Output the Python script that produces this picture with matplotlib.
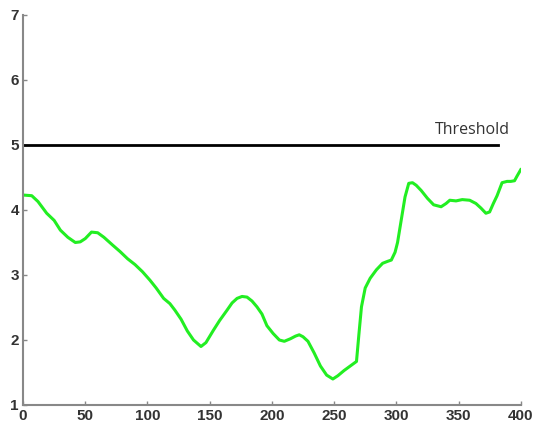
import matplotlib
matplotlib.use("Agg")
import matplotlib.pyplot as plt

# Signal trace vs. sample index
SAMPLE = [0, 7, 12, 19, 25, 30, 36, 42, 46, 50, 55, 60, 65, 72, 78, 84, 90, 96,
          102, 107, 113, 118, 122, 127, 132, 137, 143, 147, 153, 158, 164, 168,
          172, 176, 180, 184, 188, 192, 196, 201, 206, 210, 215, 219, 222, 225,
          229, 234, 239, 244, 249, 253, 258, 263, 268, 270, 272, 275, 279, 284,
          289, 293, 296, 299, 301, 304, 307, 310, 313, 316, 320, 325, 330, 336,
          340, 343, 348, 353, 359, 364, 368, 372, 375, 378, 381, 385, 389, 392,
          395, 397, 400]
LEVEL = [4.23, 4.22, 4.13, 3.95, 3.84, 3.69, 3.58, 3.50, 3.51, 3.56, 3.66, 3.65,
         3.58, 3.46, 3.36, 3.25, 3.16, 3.05, 2.92, 2.80, 2.64, 2.56, 2.46, 2.32,
         2.14, 2.00, 1.90, 1.96, 2.15, 2.30, 2.46, 2.57, 2.64, 2.67, 2.66, 2.60,
         2.51, 2.40, 2.22, 2.10, 2.00, 1.98, 2.02, 2.06, 2.08, 2.05, 1.98, 1.80,
         1.60, 1.46, 1.40, 1.45, 1.53, 1.60, 1.67, 2.10, 2.51, 2.80, 2.95, 3.08,
         3.18, 3.21, 3.23, 3.35, 3.50, 3.85, 4.20, 4.41, 4.42, 4.38, 4.30, 4.18,
         4.08, 4.05, 4.10, 4.15, 4.14, 4.16, 4.15, 4.10, 4.03, 3.95, 3.97, 4.10,
         4.22, 4.42, 4.44, 4.44, 4.45, 4.52, 4.62]

THRESHOLD = 5.0
THRESHOLD_END = 382

fig = plt.figure(figsize=(5.36, 4.32), dpi=100)
ax = fig.add_axes([0.043, 0.0625, 0.9285, 0.9028])

ax.plot(SAMPLE, LEVEL, color="#22ee22", linewidth=2.2, solid_joinstyle="round")
ax.plot([0, THRESHOLD_END], [THRESHOLD, THRESHOLD], color="black", linewidth=2)
ax.text(391, THRESHOLD + 0.1, "Threshold", ha="right", va="bottom",
        fontsize=11.5, color="#333333", family="Open Sans")

ax.set_xlim(0, 400)
ax.set_ylim(1, 7)
ax.set_xticks(range(0, 401, 50))
ax.set_yticks(range(1, 8))

for side in ("top", "right"):
    ax.spines[side].set_visible(False)
for side in ("left", "bottom"):
    ax.spines[side].set_color("#888888")
    ax.spines[side].set_linewidth(1.5)

ax.tick_params(direction="in", length=3, width=1, color="#888888",
               labelsize=11, labelcolor="#333333", pad=3)
for lab in ax.get_xticklabels() + ax.get_yticklabels():
    lab.set_fontweight("bold")
    lab.set_family("Liberation Sans")

fig.savefig("out.png", dpi=100)
